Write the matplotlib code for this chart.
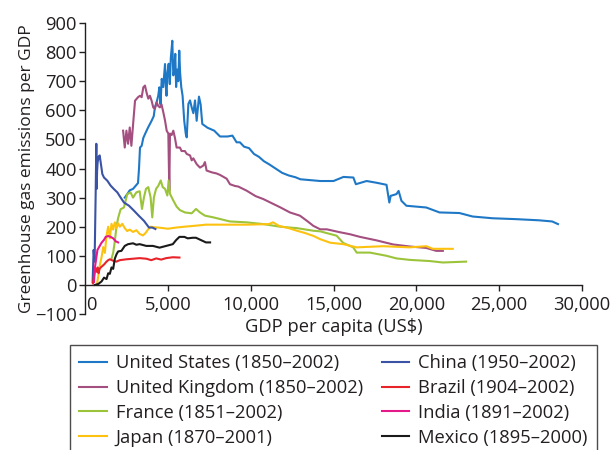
import numpy as np
import matplotlib
matplotlib.use("Agg")
import matplotlib.pyplot as plt
import matplotlib.transforms as mtransforms

# GDP per capita (US$) vs greenhouse gas emissions per GDP
us_x = [2400, 2550, 2700, 2900, 3050, 3200, 3260, 3320, 3420, 3520, 3620, 3800, 4020, 4150,
        4220, 4320, 4420, 4490, 4560, 4630, 4720, 4830, 4880, 4920, 4980, 5050, 5120, 5180,
        5270, 5330, 5390, 5450, 5500, 5570, 5630, 5690, 5740, 5810, 5890, 5990, 6080, 6140,
        6240, 6340, 6440, 6540, 6640, 6740, 6880, 6980, 7080, 7400, 7800, 8150, 8600, 8900,
        9150, 9350, 9600, 9900, 10200, 10500, 10800, 11100, 11500, 11900, 12300, 12700, 13000,
        13600, 14200, 15000, 15600, 16200, 16350, 17000, 17600, 18200, 18370, 18450, 18800,
        18930, 19100, 19400, 20600, 21400, 22600, 23400, 24600, 26000, 27400, 28200, 28550]
us_y = [300, 312, 325, 330, 340, 350, 400, 472, 478, 505, 518, 540, 564, 580,
        610, 627, 650, 679, 620, 708, 680, 759, 680, 650, 730, 760, 690, 780,
        839, 720, 735, 794, 680, 740, 700, 805, 730, 680, 650, 564, 520, 507,
        622, 634, 610, 590, 634, 564, 647, 620, 553, 540, 530, 510, 510, 513,
        490, 490, 475, 470, 450, 440, 425, 415, 400, 385, 376, 370, 363,
        360, 357, 357, 371, 369, 346, 357, 351, 344, 283, 306, 312,
        323, 289, 272, 266, 249, 247, 235, 229, 226, 222, 218, 209]

uk_x = [2300, 2400, 2500, 2600, 2700, 2800, 2920, 3020, 3200, 3320, 3420, 3520, 3620, 3720,
        3820, 3920, 4020, 4120, 4220, 4320, 4420, 4520, 4620, 4720, 4830, 4930, 5030, 5089,
        5130, 5230, 5330, 5430, 5530, 5730, 5830, 6030, 6140, 6340, 6440, 6540, 6740, 6940,
        7140, 7240, 7340, 7640, 7940, 8150, 8550, 8750, 9050, 9250, 9750, 10300, 10760,
        11300, 11770, 12370, 12970, 13400, 13780, 14200, 14600, 15300, 16000, 16600, 17600,
        18600, 19600, 20600, 21200, 21600]
uk_y = [530, 472, 530, 485, 541, 478, 564, 633, 645, 650, 645, 679, 685, 660,
        640, 650, 633, 610, 605, 627, 615, 610, 620, 595, 565, 530, 520, 323,
        520, 515, 530, 505, 472, 472, 460, 460, 450, 445, 428, 435, 415, 403,
        410, 422, 393, 387, 383, 378, 365, 346, 340, 338, 324, 305, 295,
        280, 267, 249, 238, 220, 203, 191, 191, 182, 174, 165, 153,
        139, 132, 127, 117, 117]

fr_x = [1600, 1700, 1800, 1900, 2000, 2150, 2350, 2550, 2750, 2900, 3100, 3300, 3440, 3560,
        3680, 3820, 3960, 4060, 4160, 4290, 4430, 4570, 4690, 4830, 4970, 5050, 5130, 5330,
        5530, 5730, 6030, 6440, 6700, 6940, 7240, 7750, 8750, 9750, 10760, 11770, 12800,
        13800, 14200, 15190, 15590, 16190, 16400, 17200, 18200, 18800, 19600, 20800, 21600,
        23000]
fr_y = [90, 110, 150, 200, 230, 260, 266, 312, 318, 300, 318, 322, 261, 301,
        330, 336, 301, 232, 301, 330, 341, 359, 336, 330, 307, 359, 313, 290,
        269, 257, 249, 246, 261, 249, 238, 232, 218, 215, 209, 200, 195,
        186, 184, 169, 144, 129, 111, 111, 100, 91, 86, 82, 77,
        80]

jp_x = [720, 800, 900, 1000, 1100, 1200, 1300, 1400, 1500, 1600, 1700, 1800, 1900, 2000,
        2100, 2250, 2400, 2550, 2700, 2900, 3100, 3300, 3500, 3650, 3800, 3950, 4200, 4600,
        5000, 5500, 6000, 6600, 7300, 8700, 9800, 11100, 11350, 11700, 12300, 12800, 13300,
        13800, 14200, 14800, 15600, 16400, 18000, 19600, 20600, 21000, 22200]
jp_y = [0, 30, 70, 95, 130, 110, 170, 200, 160, 210, 190, 215, 195, 212,
        200, 210, 195, 185, 190, 182, 188, 175, 170, 178, 190, 200, 198, 196,
        193, 197, 200, 203, 207, 207, 207, 209, 215, 203, 195, 186, 178,
        168, 157, 145, 140, 129, 133, 129, 133, 124, 124]

cn_x = [460, 520, 580, 640, 684, 705, 730, 760, 820, 885, 950, 1046, 1147, 1348, 1549, 1750,
        1951, 2153, 2354, 2656, 2957, 3259, 3561, 3863, 4063, 4250]
cn_y = [10, 120, 80, 300, 485, 330, 390, 420, 440, 445, 420, 381, 369, 358, 341, 329,
        318, 300, 283, 272, 255, 237, 220, 197, 197, 192]

br_x = [480, 540, 600, 660, 700, 760, 820, 880, 950, 1050, 1150, 1300, 1400, 1500, 1700,
        1900, 2100, 2500, 2900, 3300, 3700, 4000, 4300, 4600, 4900, 5300, 5700]
br_y = [5, 30, 50, 55, 45, 60, 40, 55, 60, 65, 70, 80, 85, 88, 83,
        80, 85, 88, 90, 92, 90, 85, 91, 87, 92, 95, 94]

in_x = [540, 600, 700, 750, 850, 1000, 1150, 1250, 1400, 1550, 1700, 1850, 2000]
in_y = [10, 60, 100, 120, 130, 145, 155, 165, 168, 165, 160, 150, 146]

mx_x = [600, 800, 1000, 1150, 1300, 1400, 1500, 1600, 1700, 1800, 1900, 2000, 2200, 2400,
        2600, 2900, 3100, 3300, 3700, 4100, 4500, 4900, 5300, 5500, 5700, 6000, 6200, 6500,
        6700, 7000, 7300, 7550]
mx_y = [0, 3, 12, 25, 20, 40, 38, 60, 55, 90, 105, 115, 117, 134,
        140, 143, 138, 140, 134, 134, 128, 134, 140, 154, 165, 165, 160, 162,
        162, 154, 146, 146]

labels = ["United States (1850–2002)", "United Kingdom (1850–2002)", "France (1851–2002)",
          "Japan (1870–2001)", "China (1950–2002)", "Brazil (1904–2002)",
          "India (1891–2002)", "Mexico (1895–2000)"]
colors = ["#1f78c6", "#a34f7f", "#9cc43b", "#fdc210", "#3a53a4", "#e8232a", "#e5198a", "#1a1a1a"]

txt = "#231f20"
plt.rcParams["font.family"] = ["Open Sans", "DejaVu Sans"]
plt.rcParams["font.size"] = 13.2

fig = plt.figure(figsize=(6.11, 4.5), dpi=100)
ax = fig.add_axes([85 / 611, 136 / 450, 497 / 611, 291 / 450])

series = [(us_x, us_y), (uk_x, uk_y), (fr_x, fr_y), (jp_x, jp_y),
          (cn_x, cn_y), (br_x, br_y), (in_x, in_y), (mx_x, mx_y)]
for (x, y), lab, c in zip(series, labels, colors):
    ax.plot(x, y, color=c, lw=1.5, label=lab)

ax.set_xlim(0, 30000)
ax.set_ylim(-100, 900)
ax.set_xticks(np.arange(0, 30001, 5000))
ax.set_xticklabels(["0", "5,000", "10,000", "15,000", "20,000", "25,000", "30,000"])
ax.set_yticks(np.arange(-100, 901, 100))
ax.set_yticklabels(["\u2212100"] + [str(v) for v in range(0, 901, 100)])

for s in ["top", "right"]:
    ax.spines[s].set_visible(False)
ax.spines["bottom"].set_position(("data", 0))
for s in ["left", "bottom"]:
    ax.spines[s].set_color(txt)
    ax.spines[s].set_linewidth(1.0)
ax.tick_params(axis="both", colors=txt, labelcolor=txt, length=4, width=1.0)
ax.tick_params(axis="x", pad=4)
ax.tick_params(axis="y", pad=2)

# "0" on the x axis sits just right of the y axis
lab0 = ax.get_xticklabels()[0]
lab0.set_transform(lab0.get_transform() + mtransforms.ScaledTranslation(6 / 100, 0, fig.dpi_scale_trans))
ax.xaxis.get_major_ticks()[0].tick1line.set_visible(False)

ax.set_xlabel("GDP per capita (US$)", color=txt)
ax.xaxis.set_label_coords(0.5, -0.014)
ax.set_ylabel("Greenhouse gas emissions per GDP", color=txt, fontsize=12.5)
ax.yaxis.set_label_coords(-0.1, 0.5)

leg = fig.legend(loc="upper left", bbox_to_anchor=(70 / 611, 0, 527 / 611, 1 - 345 / 450),
                 mode="expand", ncol=2, borderaxespad=0, fancybox=False, handlelength=1.5,
                 handletextpad=0.5, labelspacing=0.37, borderpad=0.5, columnspacing=0.5,
                 labelcolor=txt)
leg.get_frame().set_edgecolor(txt)
leg.get_frame().set_linewidth(1.0)

fig.savefig("out.png", dpi=100)
